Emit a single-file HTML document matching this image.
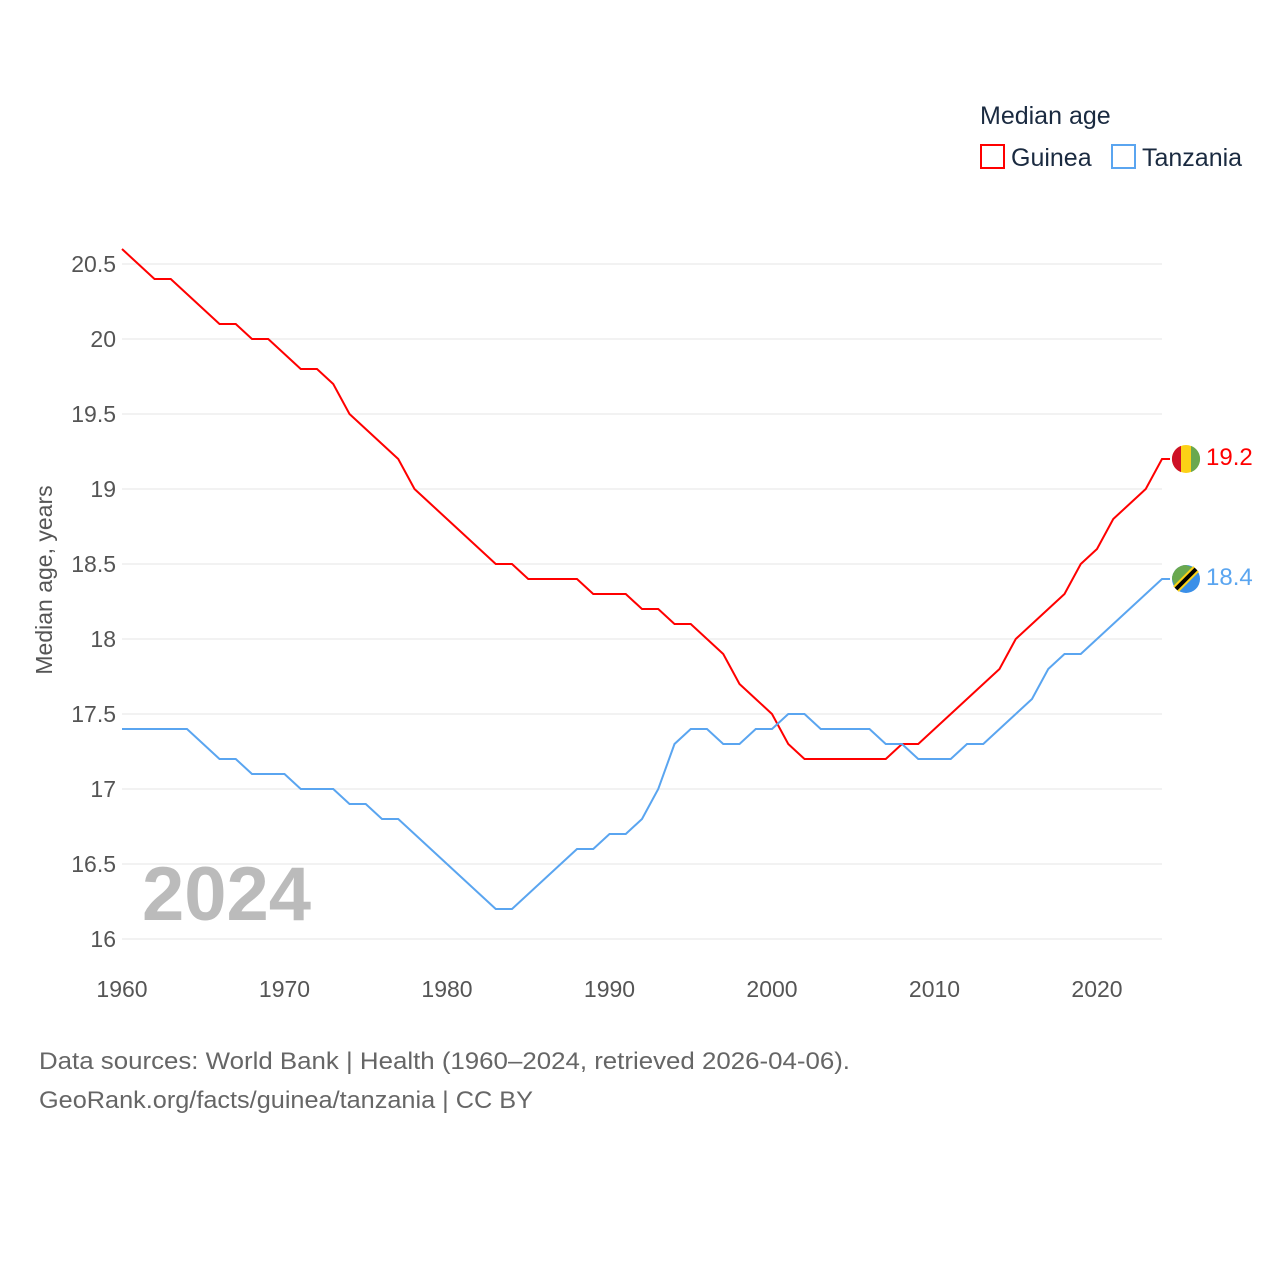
<!DOCTYPE html>
<html><head><meta charset="utf-8"><style>
body{margin:0;background:#fff;font-family:"Liberation Sans",sans-serif}
</style></head><body>
<svg id="chart" width="1280" height="1280" xmlns="http://www.w3.org/2000/svg" font-family="Liberation Sans, sans-serif">
<text x="980" y="124" font-size="25" fill="#1a2a40">Median age</text>
<g><rect x="981" y="145" width="23" height="23" fill="none" stroke="#f00" stroke-width="2"/><text x="1011" y="166" font-size="25" fill="#1a2a40">Guinea</text></g>
<g><rect x="1112" y="145" width="23" height="23" fill="none" stroke="#5aa5f0" stroke-width="2"/><text x="1142" y="166" font-size="25" fill="#1a2a40">Tanzania</text></g>
<g id="grid"></g><g id="ticks"></g>
<text transform="translate(52,580) rotate(-90)" text-anchor="middle" font-size="23" fill="#555">Median age, years</text>
<text x="142" y="920" font-size="76" font-weight="bold" fill="#bbb">2024</text>
<g id="series"></g>
<text x="39" y="1069" font-size="24" fill="#666" textLength="811" lengthAdjust="spacingAndGlyphs">Data sources: World Bank | Health (1960–2024, retrieved 2026-04-06).</text>
<text x="39" y="1108" font-size="24" fill="#666" textLength="494" lengthAdjust="spacingAndGlyphs">GeoRank.org/facts/guinea/tanzania | CC BY</text>
</svg>
<script>
const years=[];for(let y=1960;y<=2024;y++)years.push(y);
const guinea=[20.6,20.5,20.4,20.4,20.3,20.2,20.1,20.1,20.0,20.0,19.9,19.8,19.8,19.7,19.5,19.4,19.3,19.2,19.0,18.9,18.8,18.7,18.6,18.5,18.5,18.4,18.4,18.4,18.4,18.3,18.3,18.3,18.2,18.2,18.1,18.1,18.0,17.9,17.7,17.6,17.5,17.3,17.2,17.2,17.2,17.2,17.2,17.2,17.3,17.3,17.4,17.5,17.6,17.7,17.8,18.0,18.1,18.2,18.3,18.5,18.6,18.8,18.9,19.0,19.2];
const tanzania=[17.4,17.4,17.4,17.4,17.4,17.3,17.2,17.2,17.1,17.1,17.1,17.0,17.0,17.0,16.9,16.9,16.8,16.8,16.7,16.6,16.5,16.4,16.3,16.2,16.2,16.3,16.4,16.5,16.6,16.6,16.7,16.7,16.8,17.0,17.3,17.4,17.4,17.3,17.3,17.4,17.4,17.5,17.5,17.4,17.4,17.4,17.4,17.3,17.3,17.2,17.2,17.2,17.3,17.3,17.4,17.5,17.6,17.8,17.9,17.9,18.0,18.1,18.2,18.3,18.4];
const yTicks=[16,16.5,17,17.5,18,18.5,19,19.5,20,20.5];
const xTicks=[1960,1970,1980,1990,2000,2010,2020];
const X=y=>122+(y-1960)*16.25, Y=v=>939-(v-16)*150;
const NS="http://www.w3.org/2000/svg";
function mk(t,a,p){const e=document.createElementNS(NS,t);for(const k in a)e.setAttribute(k,a[k]);p.appendChild(e);return e;}
const grid=document.getElementById('grid'),ticks=document.getElementById('ticks'),ser=document.getElementById('series');
yTicks.forEach(v=>{const l=mk('line',{x1:122,x2:1162,y1:Y(v),y2:Y(v),stroke:'#e6e6e6','stroke-width':1},grid);


const t=mk('text',{x:116,y:Y(v)+8,'text-anchor':'end','font-size':23,fill:'#555'},ticks);t.textContent=v;

});
xTicks.forEach(v=>{const t=mk('text',{x:X(v),y:997,'text-anchor':'middle','font-size':23,fill:'#555'},ticks);t.textContent=v;

});
function line(d,c,name){const p=mk('polyline',{points:d.map((v,i)=>X(years[i])+','+Y(v)).join(' ')+' '+(X(2024)+8)+','+Y(d[d.length-1]),fill:'none',stroke:c,'stroke-width':2},ser);


const v=d[d.length-1],cx=X(2024)+24,cy=Y(v);
const g=mk('g',{},ser);


if(name==='guinea'){mk('circle',{cx,cy,r:14,fill:'#fcd116'},g);mk('path',{d:`M${cx-5},${cy-13.1} A14,14 0 0 0 ${cx-5},${cy+13.1}Z`,fill:'#ce1126'},g);mk('path',{d:`M${cx+5},${cy-13.1} A14,14 0 0 1 ${cx+5},${cy+13.1}Z`,fill:'#6aa84f'},g);}
else{mk('circle',{cx,cy,r:14,fill:'#3a8fe8'},g);mk('path',{d:`M${cx-14},${cy} A14,14 0 0 1 ${cx},${cy-14} L${cx+8},${cy-11} L${cx-11},${cy+8}Z`,fill:'#6aa84f'},g);mk('line',{x1:cx-10,y1:cy+10,x2:cx+10,y2:cy-10,stroke:'#fcd116','stroke-width':8},g);mk('line',{x1:cx-10,y1:cy+10,x2:cx+10,y2:cy-10,stroke:'#000','stroke-width':4},g);}
const t=mk('text',{x:cx+20,y:cy+6,'font-size':24,fill:c},ser);t.textContent=v.toFixed(1);

}
line(guinea,'#ff0000','guinea');line(tanzania,'#5aa5f0','tanzania');
</script>
</body></html>
